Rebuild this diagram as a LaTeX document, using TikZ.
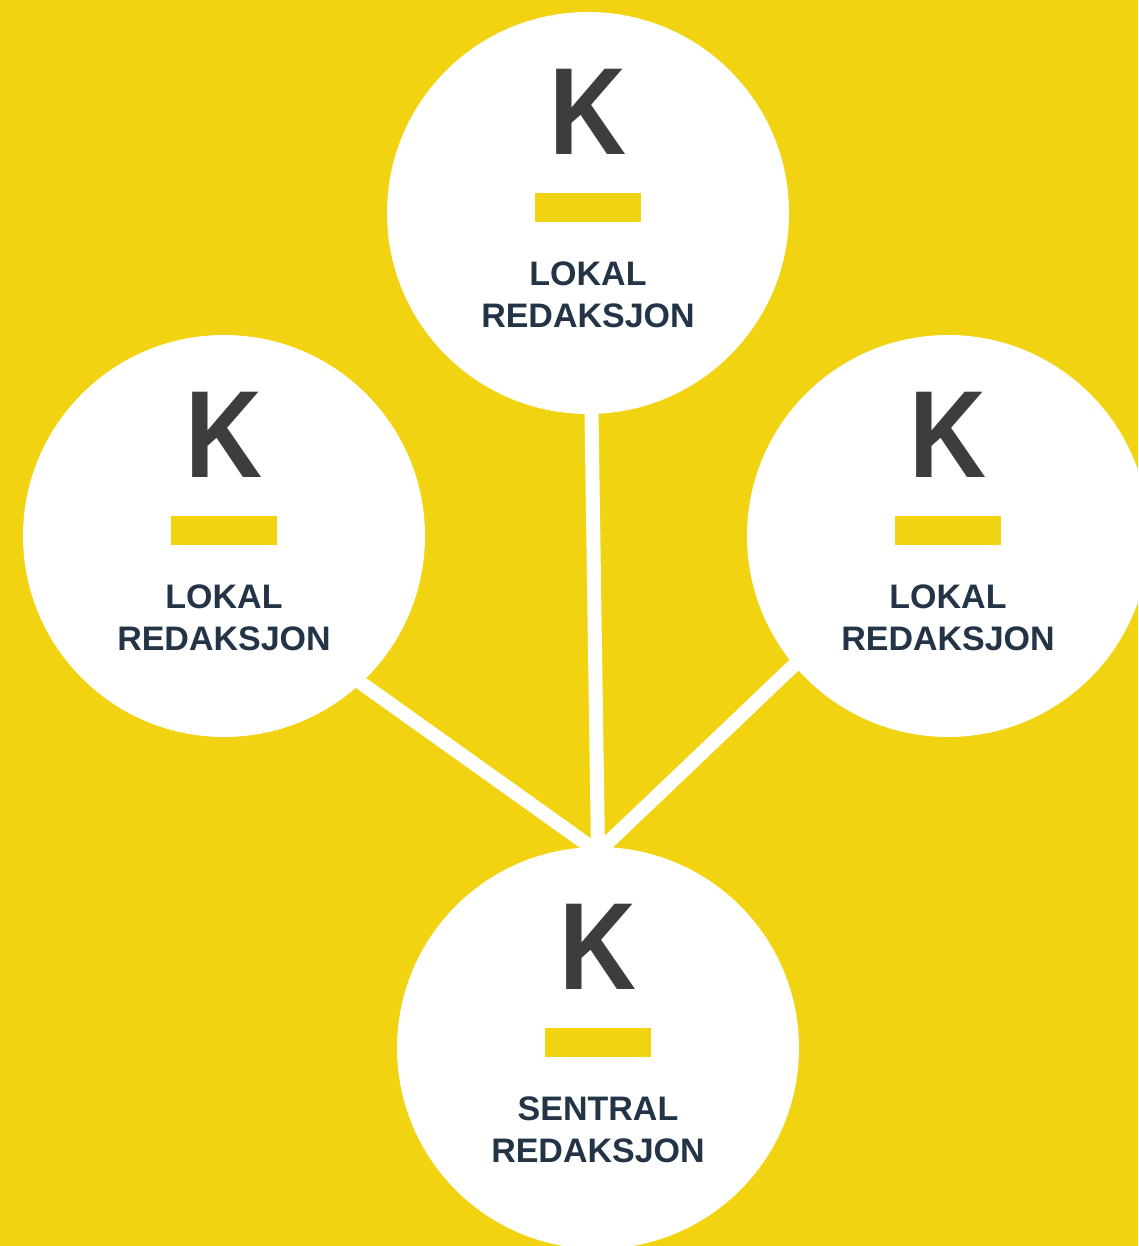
\documentclass[tikz,border=0pt]{standalone}
\usepackage{fontspec}
\setmainfont{Liberation Sans}
\usetikzlibrary{backgrounds}
\definecolor{kyellow}{HTML}{F2D311}
\definecolor{kgray}{HTML}{3D3D3D}
\definecolor{knavy}{HTML}{243447}

\begin{document}
\begin{tikzpicture}
  [x=1pt,y=1pt,
   hub/.style={circle,fill=white,minimum size=402pt,inner sep=0pt},
   letter/.style={font=\fontsize{124}{124}\selectfont\bfseries,text=kgray,inner sep=0pt},
   bar/.style={fill=kyellow,minimum width=106pt,minimum height=29pt,inner sep=0pt},
   caption/.style={font=\fontsize{34}{42}\selectfont\bfseries,text=knavy,align=center,inner sep=0pt},
   link/.style={draw=white,line width=14pt}]
  \useasboundingbox (0,0) rectangle (1138,1246);
  \foreach \nm/\x/\y/\word in {ntop/588/1033/LOKAL, nleft/224/710/LOKAL, nright/948/710/LOKAL, nmain/598/198/SENTRAL} {
    \node[hub] (\nm) at (\x,\y) {};
    \node[letter] (\nm k) at (\x,\y+101.5) {\scalebox{.86}[1]{K}};
    \node[bar] (\nm b) at (\x,\y+5.5) {};
    \node[caption] (\nm t) at (\x,\y-82) {\word\\REDAKSJON};
  }
  \begin{scope}[on background layer]
    \fill[kyellow] (0,0) rectangle (1138,1246);
    \coordinate (J) at (598,394);
    \foreach \nm/\ang in {ntop/-89.4, nleft/-47.6, nright/220.6}
      \draw[link,shorten >=-20pt] (J) -- (\nm.\ang);
  \end{scope}
\end{tikzpicture}
\end{document}
